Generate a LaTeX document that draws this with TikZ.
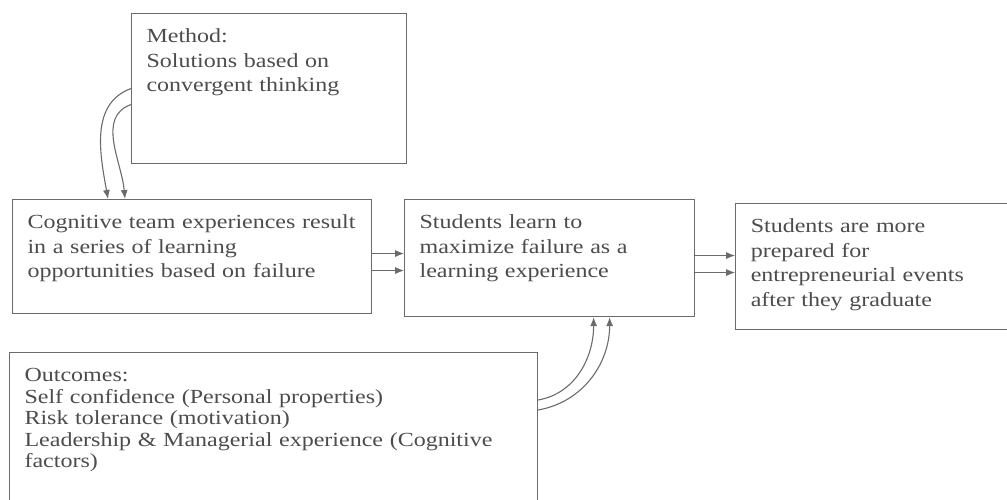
\documentclass[tikz,border=0pt]{standalone}
\usepackage{fontspec}
\setmainfont{Liberation Serif}[FakeStretch=1.2]
\usetikzlibrary{
    positioning,
    arrows.meta
}
\definecolor{ink}{gray}{0.3}
\definecolor{rule}{gray}{0.42}
\def\hsep{32pt}
\def\ksep{40pt}
\tikzset{
    base/.style={
        draw=rule,
        line width=1.1pt,
        anchor=north west,
        align=left,
        inner xsep=15pt,
        inner ysep=8pt,
        text height=21pt,
        text=ink,
        font=\fontsize{20}{24.5}\selectfont,
    },
    arr/.style={
        -{Latex[length=9pt, width=7pt]},
        draw=rule,
        line width=1.1pt,
    },
}

\begin{document}
\begin{tikzpicture}[x=1pt, y=1pt]
        \useasboundingbox (0,0) rectangle (1007,-500);

        \node[base, text width=245pt, text depth=113pt] (method) at (131,-13) {
            Method:\\
            Solutions based on\\
            convergent thinking
        };
        \node[base, text width=329pt, text depth=77pt] (team) at (12,-199) {
            Cognitive team experiences result\\
            in a series of learning\\
            opportunities based on failure
        };
        \node[base, text width=260pt, text depth=80pt,
              right=\hsep of team.north east, anchor=north west] (learn) {
            Students learn to\\
            maximize failure as a\\
            learning experience
        };
        \node[base, text width=243pt, text depth=89pt,
              right=\ksep of learn.north east, anchor=north west, yshift=-4pt] (ready) {
            Students are more\\
            prepared for\\
            entrepreneurial events\\
            after they graduate
        };
        \node[base, text width=498pt, text depth=118pt,
              font=\fontsize{20}{21.5}\selectfont] (outcomes) at (9,-352) {
            Outcomes:\\
            Self confidence (Personal properties)\\
            Risk tolerance (motivation)\\
            Leadership \& Managerial experience (Cognitive\\
            factors)
        };

        \draw [arr, out=200, in=100](method.west) to ([xshift=96pt]team.north west);
        \draw [arr, out=200, in=95]([yshift=-16pt]method.west) to ([xshift=113pt]team.north west);
        \foreach \s in {3,-14}{
            \draw [arr]([yshift=\s pt]team.east) -- ([yshift=\s pt]team.east -| learn.west);
        }
        \foreach \s in {2.5,-14.5}{
            \draw [arr]([yshift=\s pt]learn.east) -- ([yshift=\s pt]learn.east -| ready.west);
        }
        \draw [arr, out=10, in=-90]([yshift=-48pt]outcomes.north east) to ([xshift=44pt]learn.south);
        \draw [arr, out=10, in=-90]([yshift=-58pt]outcomes.north east) to ([xshift=60pt]learn.south);

    \end{tikzpicture}
\end{document}
